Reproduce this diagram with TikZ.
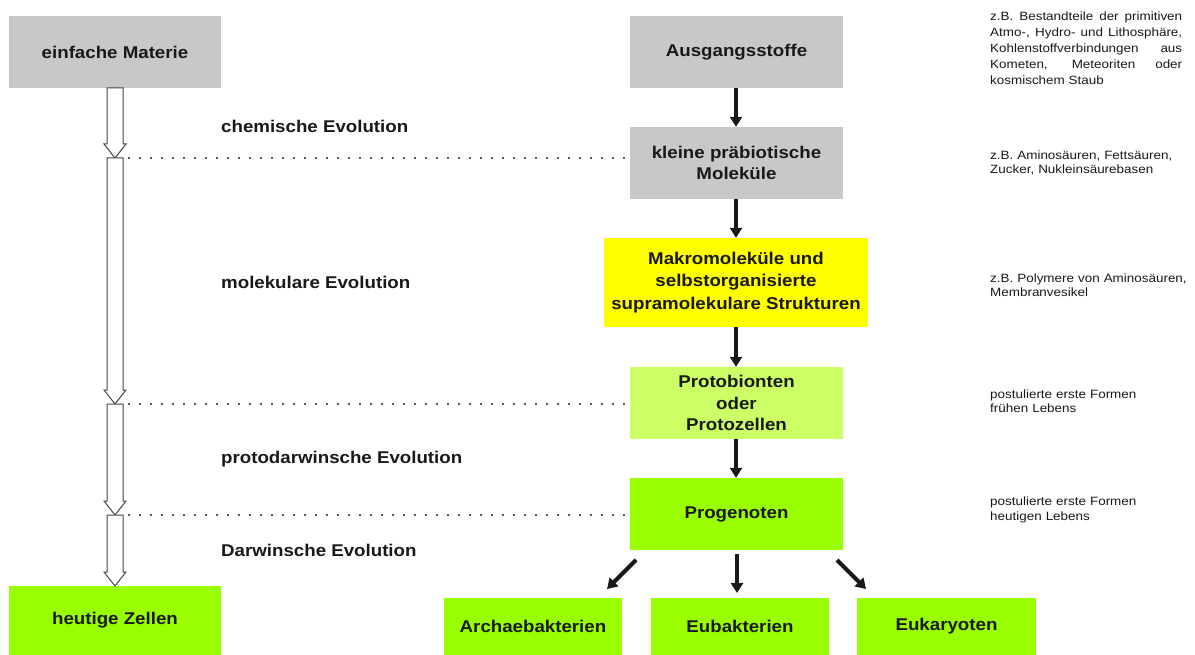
\documentclass[tikz,border=0pt]{standalone}
\usepackage{fontspec}
\setmainfont{Liberation Sans}[FakeStretch=1.10]
\newfontfamily\notefont{Liberation Sans}[FakeStretch=1.12]
\usetikzlibrary{arrows.meta,calc}
\definecolor{boxgray}{RGB}{200,200,200}
\definecolor{boxyellow}{RGB}{255,255,0}
\definecolor{boxlight}{RGB}{204,255,102}
\definecolor{boxgreen}{RGB}{153,255,0}
\definecolor{txt}{RGB}{25,25,25}
\definecolor{dotgray}{RGB}{90,90,90}
\definecolor{outl}{RGB}{70,70,70}
\tikzset{
  box/.style={inner sep=0pt, align=center, text=txt,
    font=\fontsize{17}{21.5}\selectfont\bfseries,
    minimum width=213pt, minimum height=72pt},
  evo/.style={anchor=west, inner sep=0pt, text=txt,
    font=\fontsize{17}{21}\selectfont\bfseries},
  note/.style={anchor=base west, inner sep=0pt, text width=200pt, align=left, text=txt},
  blackarr/.style={line width=4pt, draw=txt,
    -{Triangle[length=10pt,width=12pt]}},
  dots/.style={dotgray, line width=2pt, dash pattern=on 2pt off 9pt},
  hollow/.style={draw=outl, line width=1pt, fill=white, line join=miter}
}
\newcommand\hollowarr[2]{%
  \draw[hollow] ($(#1)+(-8,0)$) -- ($(#2)+(-8,-14)$) -- ($(#2)+(-11,-14)$)
    -- (#2) -- ($(#2)+(11,-14)$) -- ($(#2)+(8,-14)$) -- ($(#1)+(8,0)$) -- cycle;}
\begin{document}
\begin{tikzpicture}[x=1pt,y=-1pt]
\useasboundingbox[fill=white] (0,0) rectangle (1195,655);
% left column
\node[box, fill=boxgray, minimum width=212pt] (mat) at (115,52) {einfache Materie};
\node[box, fill=boxgreen, minimum width=212pt, minimum height=69pt] (zell) at (115,620.5) {heutige Zellen};
% right column
\node[box, fill=boxgray] (aus) at (736.5,52) {Ausgangsstoffe};
\node[box, fill=boxgray] (klein) at (736.5,163) {kleine präbiotische\\Moleküle};
\node[box, fill=boxyellow, minimum width=264pt, minimum height=89pt,
  font=\fontsize{17}{22.5}\selectfont\bfseries] (makro) at (736,282.5)
  {Makromoleküle und\\selbstorganisierte\\supramolekulare Strukturen};
\node[box, fill=boxlight] (proto) at (736.5,403) {Protobionten\\oder\\Protozellen};
\node[box, fill=boxgreen] (prog) at (736.5,514) {Progenoten};
\node[box, fill=boxgreen, minimum width=178pt, minimum height=57pt] (arch) at (533,626.5) {Archaebakterien};
\node[box, fill=boxgreen, minimum width=178pt, minimum height=57pt] (eub) at (740,626.5) {Eubakterien};
\node[box, fill=boxgreen, minimum width=179pt, minimum height=57pt] (euk) at (946.5,626.5) {Eukaryoten};
% black arrows
\draw[blackarr] (aus.south -| 736,0) -- (klein.north -| 736,0);
\draw[blackarr] (klein.south -| 736,0) -- (makro.north -| 736,0);
\draw[blackarr] (makro.south -| 736,0) -- (proto.north -| 736,0);
\draw[blackarr] (proto.south -| 736,0) -- (prog.north -| 736,0);
\coordinate (l1) at (636,560); \coordinate (l2) at (607,589);
\coordinate (m1) at (737,554); \coordinate (m2) at (737,593);
\coordinate (r1) at (837,560); \coordinate (r2) at (866,589);
\draw[blackarr] (l1) -- (l2);
\draw[blackarr] (m1) -- (m2);
\draw[blackarr] (r1) -- (r2);
% milestones on the left axis
\coordinate (a0) at (115,88);
\coordinate (a1) at (115,158);
\coordinate (a2) at (115,404);
\coordinate (a3) at (115,515);
\coordinate (a4) at (115,586);
\hollowarr{a0}{a1}
\hollowarr{a1}{a2}
\hollowarr{a2}{a3}
\hollowarr{a3}{a4}
% dotted lines
\draw[dots] ($(a1)+(13,0)$) -- (a1 -| klein.west);
\draw[dots] ($(a2)+(13,0)$) -- (a2 -| proto.west);
\draw[dots] ($(a3)+(13,0)$) -- (a3 -| prog.west);
% evolution labels
\node[evo] (e1) at (221,126) {chemische Evolution};
\node[evo] (e2) at (221,282) {molekulare Evolution};
\node[evo] (e3) at (221,459) {protodarwinsche Evolution};
\node[evo] (e4) at (221,550) {Darwinsche Evolution};
% notes
\node[note, text width=192pt, align=justify, font=\notefont\fontsize{12}{16}\selectfont] (n1) at (990,21)
  {z.B. Bestandteile der primitiven\linebreak Atmo-, Hydro- und Lithosphäre,\linebreak
   Kohlenstoffverbindungen aus\linebreak Kometen, Meteoriten oder\linebreak kosmischem Staub};
\node[note, font=\notefont\fontsize{12}{14}\selectfont] (n2) at (990,160) {z.B. Aminosäuren, Fettsäuren,\\Zucker, Nukleinsäurebasen};
\node[note, font=\notefont\fontsize{12}{14}\selectfont] (n3) at (990,283) {z.B. Polymere von Aminosäuren,\\Membranvesikel};
\node[note, font=\notefont\fontsize{12}{14.5}\selectfont] (n4) at (990,398) {postulierte erste Formen\\frühen Lebens};
\node[note, font=\notefont\fontsize{12}{14.5}\selectfont] (n5) at (990,505.5) {postulierte erste Formen\\heutigen Lebens};
\end{tikzpicture}
\end{document}
